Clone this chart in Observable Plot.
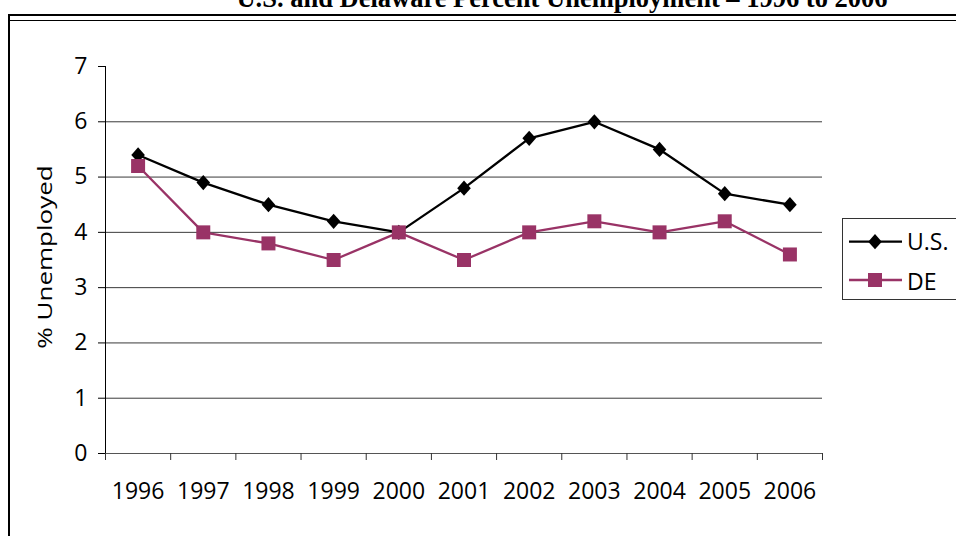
<!DOCTYPE html>
<html><head><meta charset="utf-8">
<script src="https://cdn.jsdelivr.net/npm/d3@7"></script>
<script src="https://cdn.jsdelivr.net/npm/@observablehq/plot@0.6"></script>
<style>
html,body{margin:0;padding:0;background:#fff;overflow:hidden}
#wrap{position:relative;width:956px;height:536px;overflow:hidden;font-family:"Open Sans",sans-serif}
#title{position:absolute;left:562px;top:-15px;transform:translateX(-50%);white-space:nowrap;font:bold 26.5px/26px "Liberation Serif","Times New Roman",serif;color:#000}
#frame{position:absolute;left:8px;top:14px;width:1000px;height:600px;border-left:2px solid #000;border-top:2px solid #000}
#inner{position:absolute;left:10px;top:20px;width:1000px;height:0;border-top:1px solid #000}
#chart{position:absolute;left:0;top:0}
#ylabel{position:absolute;left:45px;top:256.5px;white-space:nowrap;font:20px/20px "Open Sans",sans-serif;color:#000;transform:translate(-50%,-50%) rotate(-90deg) scaleX(1.3)}
#legend{position:absolute;left:842px;top:218px;overflow:visible}
</style></head><body>
<div id="wrap">
  <div id="title">U.S. and Delaware Percent Unemployment – 1996 to 2006</div>
  <div id="frame"></div><div id="inner"></div>
  <div id="chart"></div>
  <div id="ylabel"></div>
  <svg id="legend" width="114" height="83"></svg>
</div>
<script>
const years = [1996, 1997, 1998, 1999, 2000, 2001, 2002, 2003, 2004, 2005, 2006];
const usValues = [5.4, 4.9, 4.5, 4.2, 4.0, 4.8, 5.7, 6.0, 5.5, 4.7, 4.5];
const deValues = [5.2, 4.0, 3.8, 3.5, 4.0, 3.5, 4.0, 4.2, 4.0, 4.2, 3.6];
const seriesNames = ["U.S.", "DE"];
const seriesColors = ["#000000", "#993366"];
const yTicks = [0, 1, 2, 3, 4, 5, 6, 7];
const yLabel = "% Unemployed";

document.getElementById("ylabel").textContent = yLabel;

const usData = years.map((y, i) => ({year: y, value: usValues[i]}));
const deData = years.map((y, i) => ({year: y, value: deValues[i]}));
const bounds = d3.range(years.length + 1).map(i => years[0] - 0.5 + i);

const diamondSym = {draw(ctx) { const w = 6.8, h = 7.6; ctx.moveTo(0, -h); ctx.lineTo(w, 0); ctx.lineTo(0, h); ctx.lineTo(-w, 0); ctx.closePath(); }};
const squareSym = {draw(ctx) { const s = 7; ctx.rect(-s, -s, 2 * s, 2 * s); }};

const FONT = "'Open Sans', sans-serif";
const FS = 23;

const chart = Plot.plot({
  width: 956, height: 536,
  marginLeft: 105, marginRight: 134, marginTop: 66, marginBottom: 83,
  x: {domain: [bounds[0], bounds[bounds.length - 1]]},
  y: {domain: [0, 7]},
  style: {fontFamily: FONT, fontSize: FS + "px", color: "#000", background: "transparent", overflow: "visible"},
  marks: [
    Plot.ruleY(yTicks.filter(v => v > 0 && v < 7), {stroke: "#3a3a3a", strokeWidth: 1}),
    Plot.ruleY([0], {stroke: "#555"}),
    Plot.ruleX([bounds[0]], {stroke: "#000"}),
    Plot.axisY({ticks: yTicks, tickSize: 7, tickPadding: 11, tickFormat: d => String(d), label: null, stroke: "#000", fontSize: FS}),
    Plot.axisX({ticks: bounds, tickSize: 7, tickFormat: () => "", label: null, stroke: "#333"}),
    Plot.axisX({ticks: years, tickSize: 0, tickPadding: 29, tickFormat: d => String(d), label: null, fontSize: FS}),
    Plot.line(usData, {x: "year", y: "value", stroke: seriesColors[0], strokeWidth: 2.3}),
    Plot.dot(usData, {x: "year", y: "value", symbol: diamondSym, fill: seriesColors[0], stroke: "none"}),
    Plot.line(deData, {x: "year", y: "value", stroke: seriesColors[1], strokeWidth: 2.3}),
    Plot.dot(deData, {x: "year", y: "value", symbol: squareSym, fill: seriesColors[1], stroke: "none"})
  ]
});
document.getElementById("chart").appendChild(chart);

// legend
const lg = d3.select("#legend");
lg.append("rect").attr("x", 0.5).attr("y", 0.5).attr("width", 200).attr("height", 81)
  .attr("fill", "#fff").attr("stroke", "#333");
const syms = [diamondSym, squareSym];
const rowsY = [23.7, 62];
const textY = [31.5, 71.5];
seriesNames.forEach((name, i) => {
  lg.append("line").attr("x1", 7).attr("x2", 60).attr("y1", rowsY[i]).attr("y2", rowsY[i])
    .attr("stroke", seriesColors[i]).attr("stroke-width", 2.3);
  lg.append("path").attr("d", d3.symbol(syms[i])()).attr("transform", `translate(33,${rowsY[i]})`)
    .attr("fill", seriesColors[i]);
  lg.append("text").attr("x", 65).attr("y", textY[i]).text(name)
    .attr("font-family", FONT).attr("font-size", FS).attr("fill", "#000");
});
</script>
</body></html>
